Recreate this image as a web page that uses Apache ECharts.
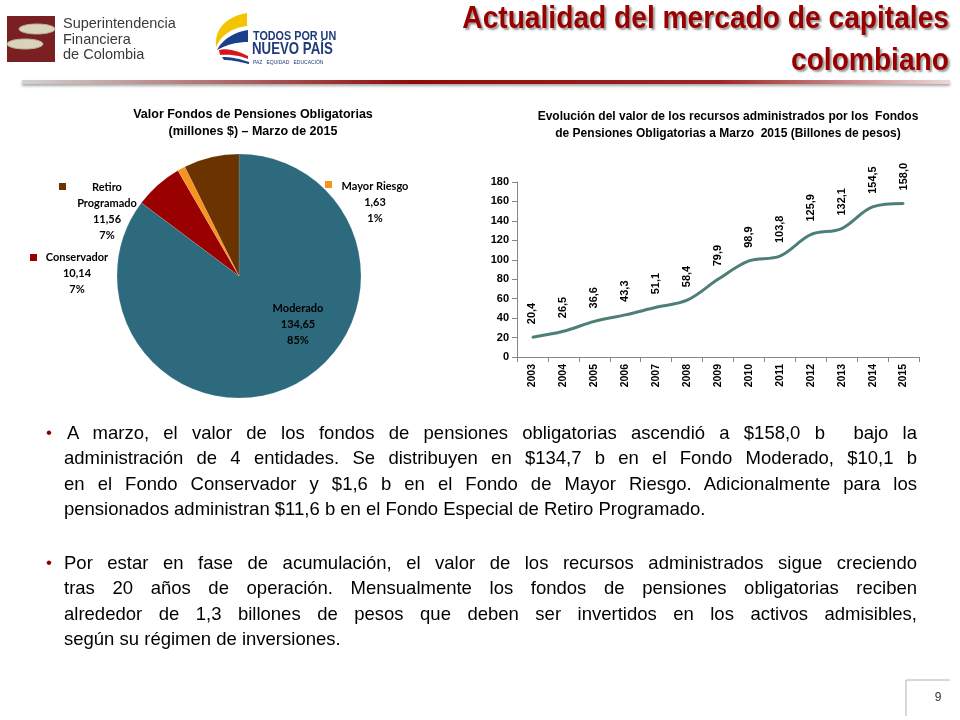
<!DOCTYPE html>
<html>
<head>
<meta charset="utf-8">
<script src="https://cdn.jsdelivr.net/npm/echarts@6/dist/echarts.min.js"></script>
<style>
  html, body { margin:0; padding:0; background:#fff; }
  #wrap { position:relative; width:960px; height:720px; overflow:hidden; background:#fff; }
  #chart { position:absolute; left:0; top:0; width:960px; height:720px; }
  .para { position:absolute; left:64px; width:853px; font-family:"Liberation Sans", Arial, sans-serif; font-size:18.5px; line-height:25.3px; color:#000; }
  .ln { text-align:justify; text-align-last:justify; white-space:nowrap; }
  .ln.last { text-align-last:left; }
  .ln.ind { padding-left:3px; }
  .bul { position:absolute; left:-18px; top:0; color:#8B0000; font-size:17px; line-height:25.3px; }
</style>
</head>
<body>
<div id="wrap">
  <div id="chart"></div>
  <div class="para" style="top:420px;">
    <span class="bul">•</span>
    <div class="ln ind">A marzo, el valor de los fondos de pensiones obligatorias ascendió a $158,0 b&nbsp; bajo la</div>
    <div class="ln">administración de 4 entidades. Se distribuyen en $134,7 b en el Fondo Moderado, $10,1 b</div>
    <div class="ln">en el Fondo Conservador y $1,6 b en el Fondo de Mayor Riesgo. Adicionalmente para los</div>
    <div class="ln last">pensionados administran $11,6 b en el Fondo Especial de Retiro Programado.</div>
  </div>
  <div class="para" style="top:550px;">
    <span class="bul">•</span>
    <div class="ln">Por estar en fase de acumulación, el valor de los recursos administrados sigue creciendo</div>
    <div class="ln">tras 20 años de operación. Mensualmente los fondos de pensiones obligatorias reciben</div>
    <div class="ln">alrededor de 1,3 billones de pesos que deben ser invertidos en los activos admisibles,</div>
    <div class="ln last">según su régimen de inversiones.</div>
  </div>
</div>
<script>
// ---------- DATA ----------
var PIE_NAMES = ['Moderado', 'Conservador', 'Mayor Riesgo', 'Retiro Programado'];
var PIE_VALUES = [134.65, 10.14, 1.63, 11.56];
var PIE_PCT_LABELS = [85, 7, 1, 7];
var YEARS = ['2003','2004','2005','2006','2007','2008','2009','2010','2011','2012','2013','2014','2015'];
var FUND_VALUES = [20.4, 26.5, 36.6, 43.3, 51.1, 58.4, 79.9, 98.9, 103.8, 125.9, 132.1, 154.5, 158.0];
var Y_TICKS = { min: 0, max: 180, interval: 20 };

// ---------- STYLE ----------
var PIE_COLORS = ['#2D6A7D', '#990000', '#F7931E', '#6B3300'];
var PIE_LABEL_POS = [[298, 324], [77, 273], [375, 202], [107, 211]];
var PIE_KEY_POS = [null, [30, 254], [325, 181], [59, 183]];
var LINE_COLOR = '#4D7F78';
var AXIS_COLOR = '#868686';

function fmt(v, d) { return v.toFixed(d).replace('.', ','); }

// sample cubic bezier segments into polygon points (logo decoration only)
function bez(p0, p1, p2, p3, n) {
  var pts = [];
  for (var i = 0; i <= n; i++) {
    var t = i / n, u = 1 - t;
    pts.push([
      u*u*u*p0[0] + 3*u*u*t*p1[0] + 3*u*t*t*p2[0] + t*t*t*p3[0],
      u*u*u*p0[1] + 3*u*u*t*p1[1] + 3*u*t*t*p2[1] + t*t*t*p3[1]
    ]);
  }
  return pts;
}
function band(a, b) { return a.concat(b.slice().reverse()); }

var chart = echarts.init(document.getElementById('chart'), null, { renderer: 'canvas' });

var TITLE_FONT = 'bold 32px "Liberation Sans", Arial, sans-serif';
var graphics = [];
// Header line gradient
graphics.push({
  type: 'rect', shape: { x: 22, y: 80, width: 928, height: 4 },
  style: {
    fill: new echarts.graphic.LinearGradient(0, 0, 1, 0, [
      { offset: 0, color: '#d2d2d2' },
      { offset: 0.42, color: '#8E0B0B' },
      { offset: 0.75, color: '#A02424' },
      { offset: 1, color: '#ecd8d8' }
    ]),
    shadowBlur: 3, shadowColor: 'rgba(0,0,0,0.35)', shadowOffsetY: 2
  }
});
// Logo 1
graphics.push({ type: 'rect', shape: { x: 7, y: 16, width: 48, height: 46 }, style: { fill: '#7A1F22' } });
graphics.push({ type: 'ellipse', shape: { cx: 37, cy: 29, rx: 18, ry: 5 }, style: { fill: '#D8D3BA', stroke: '#B8B39A', lineWidth: 1 } });
graphics.push({ type: 'ellipse', shape: { cx: 25, cy: 44, rx: 18, ry: 5 }, style: { fill: '#D8D3BA', stroke: '#B8B39A', lineWidth: 1 } });
['Superintendencia', 'Financiera', 'de Colombia'].forEach(function (t, i) {
  graphics.push({ type: 'text', x: 63, y: 24 + i * 15.7, style: { text: t, fill: '#3a3a3a', font: '14.5px "Liberation Sans", Arial, sans-serif', textVerticalAlign: 'middle' } });
});
// Logo 2 (approximate swoosh)
graphics.push({ type: 'polygon', shape: { points: band(bez([247,13],[228,16],[214,28],[216,47],16), bez([247,26],[232,28],[222,34],[216,47],16)) }, style: { fill: '#F5C400' } });
graphics.push({ type: 'polygon', shape: { points: band(bez([248,30],[234,32],[222,40],[217,50],16), bez([248,42],[238,42],[228,44],[217,50],16)) }, style: { fill: '#1C3F8C' } });
graphics.push({ type: 'polygon', shape: { points: band(bez([219,50],[226,48],[236,50],[248,56],16), bez([220,55],[228,54],[238,55],[248,59],16)) }, style: { fill: '#D6161D' } });
graphics.push({ type: 'polygon', shape: { points: band(bez([222,57],[232,57],[240,59],[249,62],16), bez([224,60],[232,60],[240,62],[249,64],16)) }, style: { fill: '#1C3F8C' } });
graphics.push({ type: 'text', x: 253, y: 36, scaleX: 0.8, style: { text: 'TODOS POR UN', fill: '#1F3C78', font: 'bold 13.5px "Liberation Sans", Arial, sans-serif', textVerticalAlign: 'middle' } });
graphics.push({ type: 'text', x: 252, y: 49, scaleX: 0.78, style: { text: 'NUEVO PAÍS', fill: '#1F3C78', font: 'bold 17px "Liberation Sans", Arial, sans-serif', textVerticalAlign: 'middle' } });
graphics.push({ type: 'text', x: 253, y: 63, style: { text: 'PAZ   EQUIDAD   EDUCACIÓN', fill: '#1F3C78', font: '5px "Liberation Sans", Arial, sans-serif', textVerticalAlign: 'middle' } });
// Main title (condensed)
graphics.push({ type: 'text', x: 949, y: 19, scaleX: 0.88, style: { text: 'Actualidad del mercado de capitales', fill: '#990000', font: TITLE_FONT, textAlign: 'right', textVerticalAlign: 'middle', textShadowColor: 'rgba(0,0,0,0.4)', textShadowBlur: 2, textShadowOffsetX: 2, textShadowOffsetY: 2 } });
graphics.push({ type: 'text', x: 949, y: 61, scaleX: 0.88, style: { text: 'colombiano', fill: '#990000', font: TITLE_FONT, textAlign: 'right', textVerticalAlign: 'middle', textShadowColor: 'rgba(0,0,0,0.4)', textShadowBlur: 2, textShadowOffsetX: 2, textShadowOffsetY: 2 } });
// Page number box
graphics.push({ type: 'polyline', shape: { points: [[906, 716], [906, 680], [950, 680]] }, style: { stroke: '#b0b0b0', lineWidth: 1, fill: null } });
graphics.push({ type: 'text', x: 938, y: 698, style: { text: '9', fill: '#333', font: '12px "Liberation Sans", Arial, sans-serif', textAlign: 'center', textVerticalAlign: 'middle' } });
// Pie label keys
PIE_KEY_POS.forEach(function (p, i) {
  if (!p) return;
  graphics.push({ type: 'rect', shape: { x: p[0], y: p[1], width: 7, height: 7 }, style: { fill: PIE_COLORS[i] } });
});

var option = {
  animation: false,
  textStyle: { fontFamily: '"Liberation Sans", Arial, sans-serif' },
  title: [
    { text: 'Valor Fondos de Pensiones Obligatorias\n(millones $) – Marzo de 2015', left: 248, top: 101, textAlign: 'center',
      textStyle: { fontSize: 12.5, fontWeight: 'bold', color: '#000', lineHeight: 17, fontFamily: '"Liberation Sans", Arial, sans-serif' } },
    { text: 'Evolución del valor de los recursos administrados por los  Fondos\nde Pensiones Obligatorias a Marzo  2015 (Billones de pesos)', left: 723, top: 103, textAlign: 'center',
      textStyle: { fontSize: 12, fontWeight: 'bold', color: '#000', lineHeight: 17, fontFamily: '"Liberation Sans", Arial, sans-serif' } }
  ],
  grid: { left: 517, right: 41, top: 182, bottom: 363, containLabel: false },
  xAxis: {
    type: 'category', data: YEARS, boundaryGap: true,
    axisLine: { lineStyle: { color: AXIS_COLOR, width: 1 } },
    axisTick: { show: true, length: 5, lineStyle: { color: AXIS_COLOR } },
    axisLabel: { rotate: 90, margin: 7, color: '#000', fontSize: 10.5, fontWeight: 'bold', interval: 0 }
  },
  yAxis: {
    type: 'value', min: Y_TICKS.min, max: Y_TICKS.max, interval: Y_TICKS.interval,
    splitLine: { show: false },
    axisLine: { show: true, lineStyle: { color: AXIS_COLOR, width: 1 } },
    axisTick: { show: true, length: 5, lineStyle: { color: AXIS_COLOR } },
    axisLabel: { margin: 8, color: '#000', fontSize: 11, fontWeight: 'bold' }
  },
  series: [
    {
      type: 'pie', center: [239, 276], radius: 122, startAngle: 90, clockwise: true,
      data: PIE_NAMES.map(function (n, i) { return { name: n, value: PIE_VALUES[i], itemStyle: { color: PIE_COLORS[i] } }; }),
      itemStyle: { borderColor: 'rgba(255,255,255,0.25)', borderWidth: 0.5 },
      label: {
        show: true, color: '#000', fontSize: 11, fontWeight: 'bold', lineHeight: 16,
        fontFamily: 'Lato, "Open Sans", sans-serif', align: 'center',
        formatter: function (p) {
          var name = p.name === 'Retiro Programado' ? 'Retiro\nProgramado' : p.name;
          return name + '\n' + fmt(p.value, 2) + '\n' + PIE_PCT_LABELS[p.dataIndex] + '%';
        }
      },
      labelLine: { show: false },
      labelLayout: function (p) {
        var pos = PIE_LABEL_POS[p.dataIndex];
        return { x: pos[0], y: pos[1], align: 'center', verticalAlign: 'middle' };
      },
      emphasis: { disabled: true }
    },
    {
      type: 'line', data: FUND_VALUES, smooth: 0.35, symbol: 'circle', symbolSize: 2, showSymbol: true,
      lineStyle: { color: LINE_COLOR, width: 3 },
      itemStyle: { color: LINE_COLOR },
      label: {
        show: true, position: 'top', distance: 12, rotate: 90, align: 'left', verticalAlign: 'middle',
        color: '#000', fontSize: 11, fontWeight: 'bold',
        formatter: function (p) { return fmt(p.value, 1); }
      },
      labelLayout: { hideOverlap: false },
      emphasis: { disabled: true }
    }
  ],
  graphic: graphics
};
chart.setOption(option);
</script>
</body>
</html>
